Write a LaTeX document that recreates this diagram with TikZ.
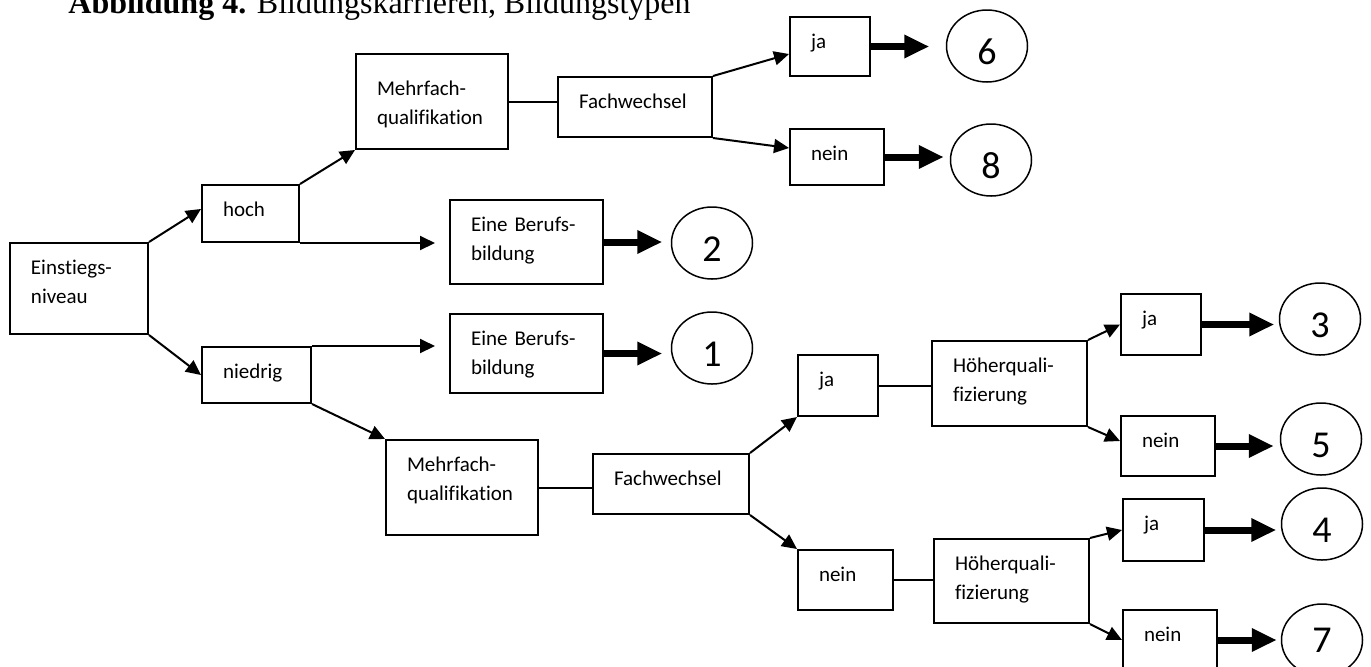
\documentclass[tikz,border=0pt]{standalone}
\usepackage{fontspec}
\setmainfont{Carlito}[Ligatures={NoCommon}]
\newfontfamily\titlefont{Liberation Serif}
\usetikzlibrary{arrows.meta,shapes.geometric}
\hyphenpenalty=10000
\exhyphenpenalty=10000
\newcommand\digitlow[1]{\raisebox{-3pt}[\height][\depth]{#1}}
\begin{document}
\begin{tikzpicture}[x=0.5pt,y=-0.5pt,
  bx/.style={draw, line width=1pt, rectangle, anchor=north west, inner xsep=10.5pt, inner ysep=0pt, align=left, text height=15.75pt, font=\fontsize{10.5}{14.5}\selectfont},
  circ/.style={draw, ellipse, line width=0.75pt, inner sep=0pt, minimum width=40.5pt, minimum height=36pt, font=\fontsize{19}{19}\selectfont},
  conn/.style={line width=1pt},
  arr/.style={line width=1pt, -{Triangle[length=7.5pt,width=7pt]}},
  fat/.style={line width=3.5pt, -{Triangle[length=12.5pt,width=11pt]}, shorten >=3pt}
]
\useasboundingbox (0,0) rectangle (1371,666);
\node[anchor=base west, inner sep=0pt, font=\titlefont\fontsize{16}{19}\selectfont] (title) at (68,13) {\textbf{Abbildung 4.} Bildungskarrieren, Bildungstypen};

\node[bx, text width=48pt, text depth=29.75pt] (ein) at (9,242) {Einstiegs-\\niveau};
\node[bx, text width=27.5pt, text depth=12.75pt] (hoch) at (201,184) {hoch};
\node[bx, text width=33.5pt, text depth=12.25pt] (nied) at (201,346) {niedrig};
\node[bx, text width=55pt, text height=20.5pt, text depth=27pt] (mq1) at (355,53) {Mehrfach-\\qualifikation};
\node[bx, text width=56pt, text depth=14.25pt] (fw1) at (557,76) {Fachwechsel};
\node[bx, text width=19pt, text depth=13.75pt] (ja1) at (789,16) {ja};
\node[bx, text width=26pt, text depth=12.25pt] (nein1) at (789,128) {nein};
\node[bx, text width=55.5pt, text depth=26.25pt] (eb1) at (449,199) {Eine Berufs-\\bildung};
\node[bx, text width=55.5pt, text depth=23.75pt] (eb2) at (449,313) {Eine Berufs-\\bildung};
\node[bx, text width=55pt, text depth=31.75pt] (mq2) at (385,439) {Mehrfach-\\qualifikation};
\node[bx, text width=57pt, text depth=14.25pt] (fw2) at (592,453) {Fachwechsel};
\node[bx, text width=19pt, text depth=14.75pt] (ja2) at (797,354) {ja};
\node[bx, text width=26.5pt, text depth=14.25pt] (nein2) at (797,549) {nein};
\node[bx, text width=56.5pt, text depth=26.75pt] (hq1) at (931,340) {Höherquali-\\fizierung};
\node[bx, text width=56.5pt, text depth=26.25pt] (hq2) at (933,538) {Höherquali-\\fizierung};
\node[bx, text width=19pt, text depth=14.75pt] (ja3) at (1120,293) {ja};
\node[bx, text width=26pt, text depth=14.25pt] (nein3) at (1120,415) {nein};
\node[bx, text width=19.5pt, text depth=15.25pt] (ja4) at (1122,498) {ja};
\node[bx, text width=26pt, text depth=14.25pt] (nein4) at (1122,609) {nein};

\node[circ] (c6) at (987,46) {\digitlow{6}};
\node[circ] (c8) at (991,160) {\digitlow{8}};
\node[circ] (c2) at (712,243) {\digitlow{2}};
\node[circ] (c1) at (712,348) {\digitlow{1}};
\node[circ] (c3) at (1320,319) {\digitlow{3}};
\node[circ] (c5) at (1321,439) {\digitlow{5}};
\node[circ] (c4) at (1322,524) {\digitlow{4}};
\node[circ] (c7) at (1322,640) {7};

\draw[fat, shorten >=8.25pt] (ja1.east) -- (ja1.east -| c6.west);
\draw[fat, shorten >=3pt] (nein1.east) -- (nein1.east -| c8.west);
\draw[fat, shorten >=4.25pt] (eb1.east) -- (eb1.east -| c2.west);
\draw[fat, shorten >=4.25pt] (eb2.east) -- (eb2.east -| c1.west);
\draw[fat, shorten >=2.25pt] (ja3.east) -- (ja3.east -| c3.west);
\draw[fat, shorten >=3pt] (nein3.east) -- (nein3.east -| c5.west);
\draw[fat, shorten >=2.25pt] (ja4.east) -- (ja4.east -| c4.west);
\draw[fat, shorten >=2pt] (nein4.east) -- (nein4.east -| c7.west);

\draw[arr] (ein.north east) -- ([yshift=2.25pt]hoch.west);
\draw[arr] (ein.south east) -- (nied.west);
\draw[arr] (hoch.north east) -- (mq1.south west);
\draw[arr, shorten >=7pt] (hoch.south east) -- (hoch.south east -| eb1.west);
\draw[arr, shorten >=7pt] (nied.north east) -- (nied.north east -| eb2.west);
\draw[arr] (nied.south east) -- (mq2.north west);
\draw[conn] (mq1.east) -- (mq1.east -| fw1.west);
\draw[arr] (fw1.north east) -- ([yshift=-3.75pt]ja1.west);
\draw[arr] (fw1.south east) -- ([yshift=4.5pt]nein1.west);
\draw[conn] (mq2.east) -- (mq2.east -| fw2.west);
\draw[arr] (fw2.north east) -- (ja2.south west);
\draw[arr] (fw2.south east) -- (nein2.north west);
\draw[conn] (ja2.east) -- (ja2.east -| hq1.west);
\draw[conn] (nein2.east) -- (nein2.east -| hq2.west);
\draw[arr] (hq1.north east) -- (ja3.west);
\draw[arr] (hq1.south east) -- ([yshift=2.5pt]nein3.west);
\draw[arr] (hq2.north east) -- (ja4.west);
\draw[arr] (hq2.south east) -- (nein4.west);
\end{tikzpicture}
\end{document}
